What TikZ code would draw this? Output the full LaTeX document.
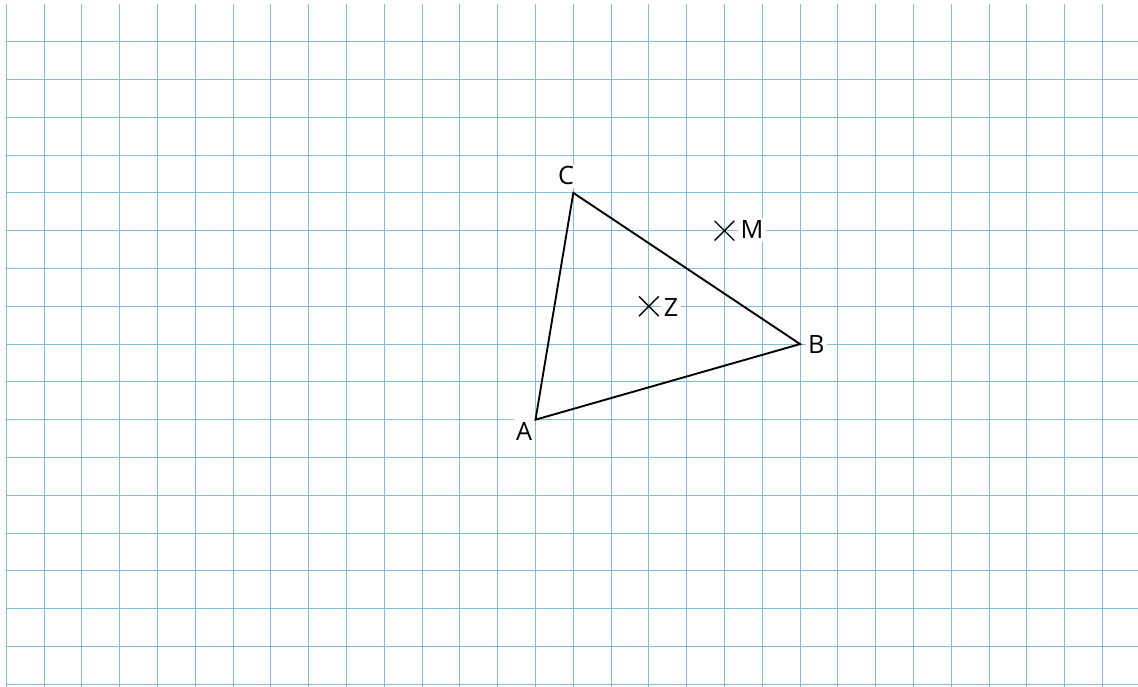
\documentclass[tikz,border=0pt]{standalone}
\usepackage{fontspec}
\setmainfont{Open Sans}
\usepackage{xcolor}
\usetikzlibrary{calc}
\definecolor{gridblue}{RGB}{130,188,216}

\begin{document}
\begin{tikzpicture}[font=\fontsize{19}{23}\selectfont,
  gridline/.style={gridblue,line width=0.8pt},
  side/.style={black,line width=1.4pt,line join=miter},
  crossmark/.style={black,line width=1pt},
  ptname/.style={fill=white,inner sep=2pt}]
  \useasboundingbox (-0.167,0.103) rectangle (29.94,-18.07);
  \clip (-0.167,0.103) rectangle (29.94,-18.07);
  % squared paper
  \foreach \x in {0,...,29}
    \draw[gridline] (\x,0) -- (\x,-18.1);
  \foreach \y in {1,...,18}
    \draw[gridline] (0,-\y) -- (30,-\y);
  % points
  \coordinate (A) at (14,-11);
  \coordinate (B) at (21,-9);
  \coordinate (C) at (15,-5);
  \coordinate (M) at (19,-6);
  \coordinate (Z) at (17,-8);
  % labels
  \node[ptname] (lA) at (13.7,-11.3) {A};
  \node[ptname] (lB) at (21.43,-9.02) {B};
  \node[ptname] (lC) at (14.81,-4.55) {C};
  \node[ptname] (lM) at (19.73,-5.98) {M};
  \node[ptname] (lZ) at (17.59,-8.02) {Z};
  \draw[side] (A) -- (B) -- (C) -- cycle;
  \draw[crossmark] ($(M)+(-0.26,-0.26)$) -- ($(M)+(0.26,0.26)$)
                   ($(M)+(-0.26,0.26)$) -- ($(M)+(0.26,-0.26)$);
  \draw[crossmark] ($(Z)+(-0.26,-0.26)$) -- ($(Z)+(0.26,0.26)$)
                   ($(Z)+(-0.26,0.26)$) -- ($(Z)+(0.26,-0.26)$);
\end{tikzpicture}
\end{document}
